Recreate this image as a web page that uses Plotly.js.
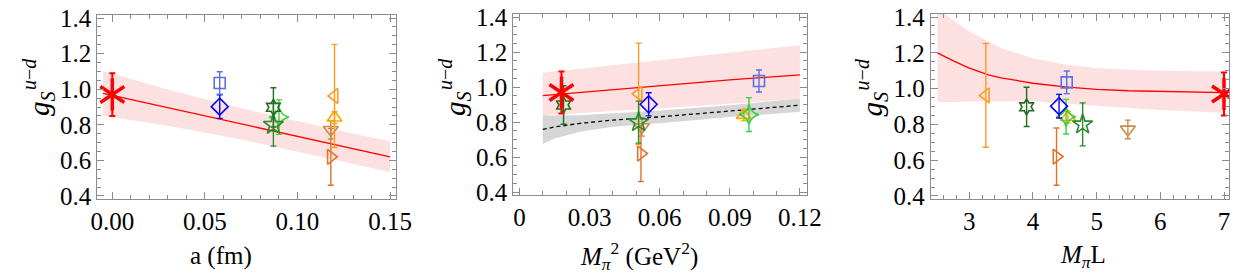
<!DOCTYPE html>
<html><head><meta charset="utf-8">
<script src="https://cdn.plot.ly/plotly-3.0.1.min.js"></script>
<style>html,body{margin:0;padding:0;background:#fff}#chart{width:1250px;height:275px}</style>
</head><body><div id="chart"></div>
<script>
// ---------------- data ----------------
const seriesNames = ['PNDME extrapolated', 'a06 (M310)', 'a06 (M220)', 'a09 (M130)', 'a09 (M220)', 'a09 (M310)',
                     'a12 (M220S)', 'a12 (M310)', 'a12 (M220L)', 'a12 (M220)'];
const aFm    = [0.000, 0.058, 0.058, 0.087, 0.087, 0.090, 0.120, 0.120, 0.118, 0.118];
const mpiSq  = [0.0180, 0.1025, 0.0553, 0.0189, 0.0510, 0.0982, 0.0510, 0.0960, 0.0524, 0.0520];
const mpiL   = [7.00, 4.53, 4.41, 3.90, 4.78, 4.52, 3.26, 4.55, 5.49, 4.37];
const gS     = [0.970, 1.035, 0.902, 0.898, 0.800, 0.843, 0.962, 0.840, 0.772, 0.620];
const gSerr  = [0.120, 0.063, 0.066, 0.110, 0.120, 0.097, 0.290, 0.033, 0.052, 0.160];

// fit vs a
const fitAX     = [-0.005, 0.150];
const fitAY     = [0.977, 0.620];
const bandAX    = [-0.005, 0.000, 0.025, 0.050, 0.075, 0.100, 0.125, 0.150];
const bandAUp   = [1.102, 1.088, 1.013, 0.943, 0.880, 0.820, 0.763, 0.706];
const bandALo   = [0.852, 0.842, 0.803, 0.757, 0.706, 0.650, 0.593, 0.534];

// fit vs Mpi^2
const fitMX     = [0.010, 0.030, 0.060, 0.090, 0.120];
const fitMY     = [0.952, 0.975, 1.010, 1.042, 1.070];
const bandMUp   = [1.082, 1.110, 1.155, 1.198, 1.240];
const bandMLo   = [0.840, 0.855, 0.880, 0.905, 0.935];
const chiX      = [0.010, 0.015, 0.026, 0.040, 0.060, 0.090, 0.120];
const chiY      = [0.758, 0.772, 0.793, 0.812, 0.830, 0.863, 0.897];
const chiUp     = [0.840, 0.838, 0.840, 0.850, 0.867, 0.897, 0.935];
const chiLo     = [0.675, 0.706, 0.745, 0.774, 0.793, 0.829, 0.859];

// fit vs Mpi L
const fitLX     = [2.50, 2.75, 3.00, 3.30, 3.50, 4.00, 4.50, 5.00, 5.50, 6.00, 6.50, 7.00];
const fitLY     = [1.200, 1.155, 1.115, 1.077, 1.060, 1.030, 1.010, 0.996, 0.988, 0.983, 0.979, 0.977];
const bandLUp   = [1.450, 1.380, 1.320, 1.262, 1.225, 1.170, 1.135, 1.115, 1.105, 1.100, 1.097, 1.095];
const bandLLo   = [0.925, 0.925, 0.928, 0.930, 0.930, 0.928, 0.918, 0.905, 0.892, 0.880, 0.871, 0.865];

// tick labels
const yTickVals = [0.4, 0.6, 0.8, 1.0, 1.2, 1.4];
const yTickText = ['0.4', '0.6', '0.8', '1.0', '1.2', '1.4'];
const aTickVals = [0, 0.05, 0.10, 0.15];
const aTickText = ['0.00', '0.05', '0.10', '0.15'];
const mTickVals = [0, 0.03, 0.06, 0.09, 0.12];
const mTickText = ['0', '0.03', '0.06', '0.09', '0.12'];
const lTickVals = [3, 4, 5, 6, 7];
const lTickText = ['3', '4', '5', '6', '7'];

// ---------------- styles ----------------
const symbols = ['star', 'square-open', 'diamond-open', 'hexagram-open', 'star-open', 'star-diamond-open',
                 'triangle-left-open', 'triangle-up-open', 'triangle-down-open', 'triangle-right-open'];
const colors  = ['#ff0000', '#5672e0', '#0808f0', '#1f6e1f', '#2b8a2b', '#3fcf3f',
                 '#ff9a1f', '#ffa800', '#cc8a4a', '#e0742a'];
const sizes   = [20, 11, 13, 12, 15, 14, 13, 13, 13, 13];

const FONT = 'Liberation Serif, DejaVu Serif';
const PINK = '#fde1e1';
const GRAY = '#d6d6d6';

const traces = [];
function band(xs, up, lo, xa, ya, color) {
  traces.push({x: xs.concat(xs.slice().reverse()), y: up.concat(lo.slice().reverse()),
    xaxis: xa, yaxis: ya, mode: 'lines', fill: 'toself', fillcolor: color,
    line: {width: 0, color: color}, hoverinfo: 'skip', showlegend: false});
}
function line(xs, ys, xa, ya, color, dash) {
  traces.push({x: xs, y: ys, xaxis: xa, yaxis: ya, mode: 'lines',
    line: {color: color, width: 1.3, dash: dash || 'solid'}, hoverinfo: 'skip', showlegend: false});
}

band(bandAX, bandAUp, bandALo, 'x', 'y', PINK);
line(fitAX, fitAY, 'x', 'y', '#ff0000');
band(fitMX, bandMUp, bandMLo, 'x2', 'y2', PINK);
band(chiX, chiUp, chiLo, 'x2', 'y2', GRAY);
line(fitMX, fitMY, 'x2', 'y2', '#ff0000');
line(chiX, chiY, 'x2', 'y2', '#000000', '4px,3px');
band(fitLX, bandLUp, bandLLo, 'x3', 'y3', PINK);
line(fitLX, fitLY, 'x3', 'y3', '#ff0000');

const panels = [{xs: aFm, xa: 'x', ya: 'y'}, {xs: mpiSq, xa: 'x2', ya: 'y2'}, {xs: mpiL, xa: 'x3', ya: 'y3'}];
panels.forEach(p => {
  for (let i = seriesNames.length - 1; i >= 0; i--) {
    const errBar = {type: 'data', array: [gSerr[i]], visible: true, color: colors[i],
                    thickness: i === 0 ? 2 : 1.4, width: 3};
    if (i === 0) {
      ['y-up-open', 'y-down-open'].forEach((s, k) => {
        traces.push({x: [p.xs[i]], y: [gS[i]], xaxis: p.xa, yaxis: p.ya, mode: 'markers',
          name: seriesNames[i], showlegend: false,
          error_y: k === 0 ? errBar : {visible: false},
          marker: {symbol: s, size: sizes[i], color: colors[i], line: {color: colors[i], width: 3.5}}});
      });
    } else {
      traces.push({x: [p.xs[i]], y: [gS[i]], xaxis: p.xa, yaxis: p.ya, mode: 'markers',
        name: seriesNames[i], showlegend: false, error_y: errBar,
        marker: {symbol: symbols[i], size: sizes[i], color: colors[i], line: {color: colors[i], width: 1.6}}});
    }
  }
});

// ---------------- layout ----------------
const W = 1250, H = 275;
function px2x(a, b) { return [a / W, b / W]; }
function px2y(top, bot) { return [1 - bot / H, 1 - top / H]; }

function axis(domain, range, tv, tt, minorD, anchor) {
  return {domain: domain, range: range, tickmode: 'array', tickvals: tv, ticktext: tt,
    ticks: 'inside', ticklen: 7, tickwidth: 1, tickcolor: '#8c8c8c',
    showline: true, linecolor: '#8c8c8c', linewidth: 1, mirror: 'allticks',
    zeroline: false, showgrid: false, anchor: anchor, fixedrange: true,
    tickfont: {family: FONT, size: 25, color: '#000'},
    minor: {tickmode: 'linear', tick0: 0, dtick: minorD, ticks: 'inside', ticklen: 4,
            tickcolor: '#8c8c8c', tickwidth: 1, showgrid: false}};
}
const yr = [0.383, 1.417];
const layout = {
  width: W, height: H, margin: {l: 0, r: 0, t: 0, b: 0}, paper_bgcolor: '#fff', plot_bgcolor: '#fff',
  showlegend: false, font: {family: FONT},
  xaxis:  axis(px2x(97.3, 396), [-0.0081, 0.1532], aTickVals, aTickText, 0.01, 'y'),
  yaxis:  axis(px2y(15, 199), yr, yTickVals, yTickText, 0.05, 'x'),
  xaxis2: axis(px2x(513.3, 806.7), [-0.0026, 0.1229], mTickVals, mTickText, 0.01, 'y2'),
  yaxis2: axis(px2y(14.3, 195), yr, yTickVals, yTickText, 0.05, 'x2'),
  xaxis3: axis(px2x(930.7, 1229.3), [2.394, 7.083], lTickVals, lTickText, 0.2, 'y3'),
  yaxis3: axis(px2y(14, 199), yr, yTickVals, yTickText, 0.05, 'x3'),
  annotations: []
};

const xTitles = [
  {t: 'a (fm)', cx: 221},
  {t: '<i>M</i><sub><i>π</i></sub><sup>2</sup> (GeV<sup>2</sup>)', cx: 639},
  {t: '<i>M</i><sub><i>π</i></sub>L', cx: 1083}
];
xTitles.forEach(o => layout.annotations.push({text: o.t, xref: 'paper', yref: 'paper',
  x: o.cx / W, y: 1 - 256 / H, xanchor: 'center', yanchor: 'middle', showarrow: false,
  font: {family: FONT, size: 25, color: '#000'}}));

[0, 416, 833.4].forEach(dx => {
  layout.annotations.push({text: '<i>g</i><sub><i>S</i></sub>', xref: 'paper', yref: 'paper',
    x: (41 + dx) / W, y: 1 - 104 / H, xanchor: 'center', yanchor: 'middle', textangle: -90,
    showarrow: false, font: {family: FONT, size: 29, color: '#000'}});
  layout.annotations.push({text: '<i>u</i>−<i>d</i>', xref: 'paper', yref: 'paper',
    x: (29 + dx) / W, y: 1 - 74 / H, xanchor: 'center', yanchor: 'middle', textangle: -90,
    showarrow: false, font: {family: FONT, size: 20, color: '#000'}});
});

Plotly.newPlot('chart', traces, layout, {staticPlot: true, displayModeBar: false});
</script>
</body></html>
